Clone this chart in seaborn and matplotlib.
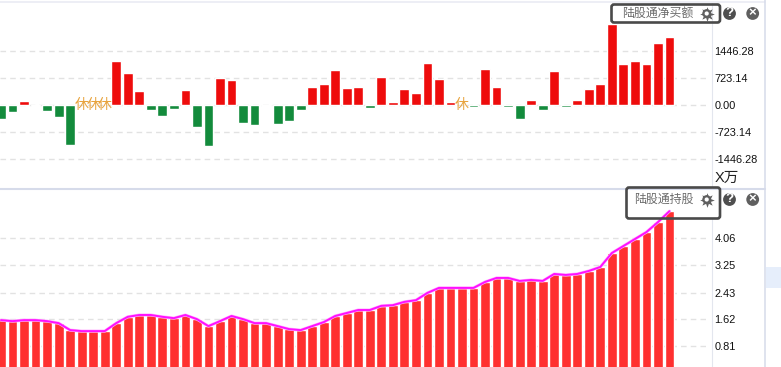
import numpy as np
import pandas as pd
import matplotlib.pyplot as plt
import seaborn as sns
from matplotlib.lines import Line2D
from matplotlib.patches import Circle, FancyBboxPatch, Rectangle
from matplotlib.transforms import Affine2D

# net buy per day, nan = market closed
net_buy = [-375, -188, 107, -27, -161, -321, -1071, np.nan, np.nan, np.nan,
           1179, 857, 375, -134, -295, -107, 402, -589, -1098, 723,
           670, -482, -536, -27, -509, -429, -134, 482, 563, 938,
           455, 482, -80, 750, 80, 429, 321, 1125, 697, 80,
           np.nan, -54, 964, 482, -54, -375, 134, -134, 911, -54,
           134, 429, 563, 2170, 1098, 1179, 1098, 1661, 1822]

holdings = [1.60, 1.57, 1.60, 1.60, 1.57, 1.51, 1.30, 1.27, 1.27, 1.27,
            1.51, 1.70, 1.755, 1.755, 1.70, 1.66, 1.755, 1.63, 1.42, 1.57,
            1.725, 1.63, 1.51, 1.51, 1.42, 1.33, 1.30, 1.42, 1.54, 1.725,
            1.815, 1.905, 1.905, 2.03, 2.05, 2.15, 2.20, 2.42, 2.57, 2.57,
            2.57, 2.57, 2.75, 2.87, 2.87, 2.78, 2.81, 2.78, 2.99, 2.96,
            2.99, 3.08, 3.20, 3.62, 3.83, 4.04, 4.25, 4.55, 4.88]

net_ticks = [-1446.28, -723.14, 0.00, 723.14, 1446.28]
hold_ticks = [0.81, 1.62, 2.43, 3.25, 4.06]

W, H = 781, 367

sns.set_style('white')
plt.rcParams['font.family'] = ['Liberation Sans', 'Noto Sans CJK SC', 'DejaVu Sans']

days = np.arange(len(net_buy))
top_df = pd.DataFrame({'day': days, 'value': net_buy})
top_df['dir'] = np.where(top_df['value'] < 0, 'down', 'up')
bottom_df = pd.DataFrame({'day': days, 'value': holdings})

fig = plt.figure(figsize=(W / 100, H / 100), dpi=100, facecolor='white')
# pixel coordinates measured from the top left, like the screenshot
px = Affine2D().scale(1, -1).translate(0, H)


def make_axes(top, bottom):
    ax = fig.add_axes([0, 1 - bottom / H, 706 / W, (bottom - top) / H])
    ax.set_facecolor('none')
    sns.despine(ax=ax, left=True, bottom=True, right=True, top=True)
    ax.yaxis.tick_right()
    ax.grid(False)
    return ax


def finish_axes(ax, ticks, fmt):
    ax.set_xlim(-0.087, 61.17)
    ax.set_xticks([])
    ax.set_yticks(ticks)
    ax.set_yticklabels([fmt.format(t) for t in ticks], fontsize=7.9, color='#111111')
    ax.tick_params(axis='y', length=0, pad=6)
    ax.yaxis.grid(True, color='#e2e2e2', linestyle=(0, (4, 3)), linewidth=1)
    ax.set_axisbelow(True)
    ax.set_xlabel('')
    ax.set_ylabel('')


ax1 = make_axes(3, 188)
sns.barplot(data=top_df, x='day', y='value', hue='dir', dodge=False, legend=False,
            palette={'up': '#ee0c0c', 'down': '#138b3c'}, width=0.85,
            saturation=1, errorbar=None, ax=ax1)
ax1.set_ylim((105 - 188) * 26.9, (105 - 3) * 26.9)
finish_axes(ax1, net_ticks, '{:.2f}')
for d, v in zip(days, net_buy):
    if np.isnan(v):
        ax1.text(d, 0, '休', color='#e8a33d', fontsize=10, ha='center', va='center')

ax2 = make_axes(190, 367)
sns.barplot(data=bottom_df, x='day', y='value', color='#ff3030', width=0.85,
            saturation=1, errorbar=None, ax=ax2)
sns.lineplot(data=bottom_df, x='day', y='value', color='#ffb0ff', linewidth=2.2, ax=ax2)
sns.lineplot(data=bottom_df, x='day', y='value', color='#ff10ff', linewidth=1.4, ax=ax2)
ax2.set_ylim((373.3 - 367) * 0.0301, (373.3 - 190) * 0.0301)
finish_axes(ax2, hold_ticks, '{:.2f}')

# panel frame
for xs, ys, col, lw in [
    ((0, 765), (2, 2), '#e8eaf3', 1.1),
    ((0, 765), (188.5, 188.5), '#d6dbea', 1.5),
    ((764.5, 764.5), (0, H), '#d6dbea', 1.1),
    ((711.5, 711.5), (3, 188), '#e3e6ee', 0.8),
    ((711.5, 711.5), (219, H), '#e3e6ee', 0.8),
]:
    fig.add_artist(Line2D(xs, ys, color=col, linewidth=lw, transform=px))

fig.add_artist(Rectangle((765.5, 267), 16, 21, facecolor='#e6eefb', edgecolor='none', transform=px))

# title boxes and the small buttons
for x0, y0, x1, y1, title, tx, cy in [
    (611.5, 4.5, 720, 22.5, '陆股通净买额', 622, 13.5),
    (626.5, 187.5, 720, 218.5, '陆股通持股', 634, 199.5),
]:
    fig.add_artist(FancyBboxPatch((x0 + 2, y0 + 2), x1 - x0 - 4, y1 - y0 - 4,
                                  boxstyle='round,pad=2,rounding_size=2.5',
                                  facecolor='none', edgecolor='#4a4a4a', linewidth=1.9,
                                  transform=px, zorder=5))
    fig.text(tx, cy, title, transform=px, fontsize=8.6, color='#6b6b6b', va='center', zorder=6)
    # gear: star for the teeth, ring on top
    fig.add_artist(Line2D([706.7], [cy], marker=(8, 1, 0), markersize=10.5, color='#5f5f5f',
                          markeredgewidth=0, linestyle='none', transform=px, zorder=6))
    fig.add_artist(Circle((706.7, cy), 4.4, facecolor='#5f5f5f', edgecolor='none', transform=px, zorder=6))
    fig.add_artist(Circle((706.7, cy), 2.1, facecolor='white', edgecolor='none', transform=px, zorder=7))
    for cx, mark, col in [(729.5, '?', '#4f4f4f'), (752.7, '×', '#5f5f5f')]:
        fig.add_artist(Circle((cx, cy), 6.4, facecolor=col, edgecolor='none', transform=px, zorder=6))
        fig.text(cx, cy, mark, transform=px, fontsize=9.5, color='white', fontweight='bold',
                 ha='center', va='center', zorder=7)

fig.text(715, 178, 'X万', transform=px, fontsize=10.5, color='#222222', va='center')

fig.savefig('out.png', dpi=100)
plt.close()
